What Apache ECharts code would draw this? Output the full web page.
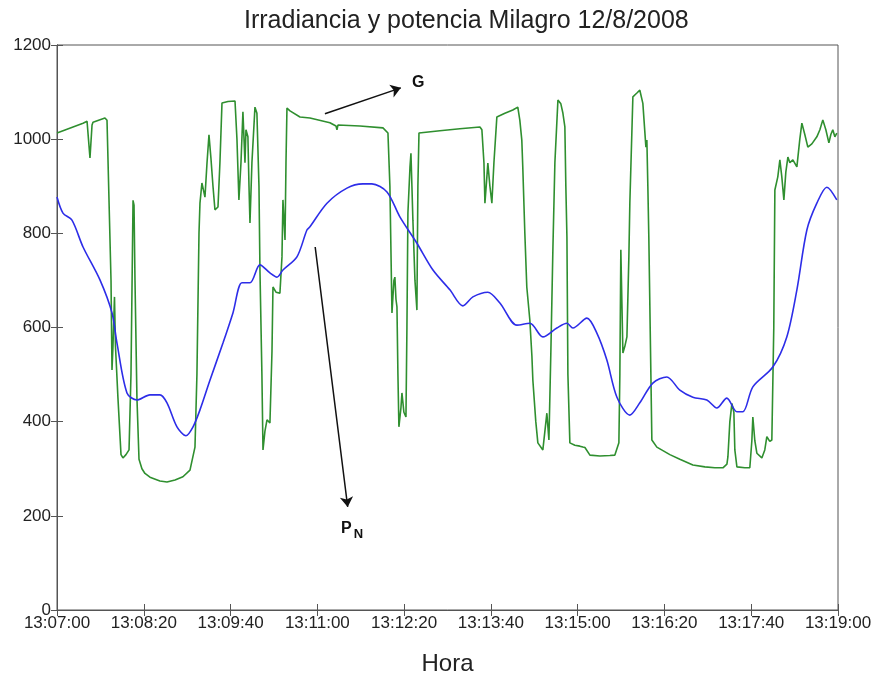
<!DOCTYPE html>
<html>
<head>
<meta charset="utf-8">
<script src="https://cdn.jsdelivr.net/npm/echarts@6/dist/echarts.min.js"></script>
<style>html,body{margin:0;padding:0;background:#fff}#c{width:877px;height:674px}</style>
</head>
<body>
<div id="c"></div>
<script>
// time in seconds after 13:07:00
var gTime = [0,24.0,27.7,30.4,32.3,33.2,44.2,46.1,49.8,50.7,51.6,53.0,53.9,56.2,59.0,60.8,63.6,66.4,68.2,70.1,71.0,71.9,73.7,75.6,78.3,81.1,85.7,94.9,101.4,108.8,116.1,122.6,127.2,129.0,130.9,131.8,133.6,136.4,138.3,140.1,141.9,143.8,145.6,148.4,150.2,152.1,157.6,164.1,165.9,167.7,169.6,171.4,173.3,174.2,176.0,177.0,177.9,179.7,182.5,184.3,186.2,187.1,188.9,189.9,191.7,193.6,196.3,198.2,199.1,201.9,205.5,207.4,208.3,210.2,211.1,212.0,214.8,224.0,233.2,251.6,257.2,258.1,259.0,279.3,300.5,305.1,306.9,308.8,310.6,311.5,312.5,313.4,314.3,315.2,317.1,318.0,319.8,321.7,322.6,323.5,325.4,326.3,327.2,328.1,330.0,331.8,332.7,333.7,353.0,371.4,389.9,391.7,393.6,394.5,396.3,397.2,399.1,400.9,402.8,405.5,412.9,420.2,424.8,426.7,428.5,429.4,431.3,433.1,435.9,437.8,438.7,441.4,443.3,447.9,449.8,451.6,453.5,455.3,457.2,459.0,461.8,464.5,466.4,468.2,469.1,470.1,471.0,472.8,477.4,482.0,484.8,486.7,491.3,500.5,509.7,514.3,518.0,518.9,519.8,520.8,521.7,523.5,525.4,527.2,528.1,530.9,534.6,537.3,540.1,542.9,543.8,544.7,545.6,547.5,548.4,553.0,565.0,574.2,586.2,597.3,606.5,613.9,617.6,618.5,620.3,622.2,624.0,624.9,626.8,634.1,638.7,640.6,641.5,643.3,645.2,649.8,652.5,654.4,657.1,659.0,660.8,661.8,664.5,666.4,668.2,670.1,671.9,673.8,675.6,678.4,680.2,682.1,684.8,686.7,689.4,692.2,695.9,700.5,703.3,706.0,708.8,711.6,713.4,715.2,717.1,718.9];
var gValue = [1013,1034,1038,960,1030,1036,1045,1040,700,510,560,665,560,450,330,323,330,340,500,870,860,700,450,320,300,290,282,274,272,276,283,297,346,500,800,864,907,877,950,1009,960,900,850,856,950,1077,1080,1081,1000,871,950,1058,950,1020,1005,900,822,950,1068,1055,900,722,500,340,380,404,397,550,686,675,673,750,871,786,950,1066,1060,1047,1045,1035,1028,1020,1030,1028,1024,1013,900,631,700,707,660,644,500,389,430,461,420,410,600,843,940,970,900,828,700,637,900,1013,1018,1022,1026,1020,950,864,920,949,900,864,950,1047,1055,1062,1068,1040,998,941,800,686,616,540,488,400,355,340,380,418,361,550,771,950,1083,1075,1055,1026,900,792,500,355,350,348,346,345,329,327,328,329,355,500,765,650,546,560,580,750,864,1090,1098,1104,1076,983,998,900,792,500,361,346,330,320,308,304,302,302,310,325,400,439,420,340,304,302,302,360,410,360,333,323,340,368,358,361,600,892,920,956,920,871,930,962,950,956,960,941,1000,1034,1010,983,990,1005,1020,1041,1020,992,1010,1020,1005,1013];

var pTime = [0,5.5,13.8,24.0,39.6,50.7,55.3,64.5,73.7,85.7,94.9,101.4,110.6,118.9,125.4,131.8,141.0,153.0,162.2,170.5,177.9,187.1,196.3,202.8,208.3,221.2,230.4,233.2,248.9,267.3,282.0,290.3,304.2,316.1,331.8,346.6,362.2,374.2,383.4,397.2,408.3,424.0,436.0,447.9,460.8,470.1,475.6,488.5,497.7,506.9,516.2,528.1,537.3,549.3,562.2,574.2,586.2,599.1,608.3,617.5,626.8,632.3,641.5,659.9,672.8,682.1,691.3,700.5,709.7,718.9];
var pValue = [877,843,828,771,701,631,567,461,446,457,457,440,389,370,389,425,488,567,631,695,695,733,716,707,722,750,807,814,864,896,905,905,888,835,779,722,680,646,665,675,652,605,609,580,599,609,599,620,588,531,452,414,440,482,495,467,452,446,429,450,421,421,474,516,580,680,807,864,898,871];

var xTicks = {min: 0, max: 720, interval: 80};
var yTicks = {min: 0, max: 1200, interval: 200};

// annotation arrows (data coordinates: seconds, value)
var arrowG = [[247, 1054], [317, 1109]];
var arrowP = [[238, 771], [268, 219]];
var labelG = [333, 1120];
var labelP = [272, 172];

function zip(a, b) { return a.map(function (t, i) { return [t, b[i]]; }); }
function fmt(v) {
  var s = 7 * 60 + v;
  var m = Math.floor(s / 60), ss = Math.round(s % 60);
  return '13:' + (m < 10 ? '0' : '') + m + ':' + (ss < 10 ? '0' : '') + ss;
}

var font = 'Liberation Sans, Arial, Helvetica, sans-serif';
var axisCol = '#555';
var chart = echarts.init(document.getElementById('c'));
chart.setOption({
  backgroundColor: '#fff',
  animation: false,
  title: {
    text: 'Irradiancia y potencia Milagro 12/8/2008',
    left: 239, top: 4,
    textStyle: {fontFamily: font, fontSize: 25, fontWeight: 'normal', color: '#222'}
  },
  grid: {left: 57, right: 39, top: 45, bottom: 64, show: true, borderColor: axisCol, borderWidth: 1,
    containLabel: false, outerBoundsMode: 'none'},
  xAxis: [{
    type: 'value', min: xTicks.min, max: xTicks.max, interval: xTicks.interval,
    name: 'Hora', nameLocation: 'middle', nameGap: 42,
    nameTextStyle: {fontFamily: font, fontSize: 24, color: '#222'},
    axisLine: {show: true, lineStyle: {color: axisCol}},
    axisTick: {show: true, inside: true, length: 6, lineStyle: {color: axisCol}},
    axisLabel: {fontFamily: font, fontSize: 17, color: '#222', margin: 5, formatter: fmt},
    splitLine: {show: false}
  }, {
    type: 'value', position: 'top', min: xTicks.min, max: xTicks.max, interval: xTicks.interval,
    axisLine: {show: true, lineStyle: {color: axisCol}},
    axisTick: {show: true, inside: true, length: 6, lineStyle: {color: axisCol}},
    axisLabel: {show: false}, splitLine: {show: false}
  }],
  yAxis: [{
    type: 'value', position: 'left', min: yTicks.min, max: yTicks.max, interval: yTicks.interval,
    axisLine: {show: true, lineStyle: {color: axisCol}},
    axisTick: {show: true, inside: true, length: 6, lineStyle: {color: axisCol}},
    axisLabel: {fontFamily: font, fontSize: 17, color: '#222', margin: 6, formatter: function (v) { return String(v); }},
    splitLine: {show: false}
  }, {
    type: 'value', position: 'right', min: yTicks.min, max: yTicks.max, interval: yTicks.interval,
    axisLine: {show: true, lineStyle: {color: axisCol}},
    axisTick: {show: true, inside: true, length: 6, lineStyle: {color: axisCol}},
    axisLabel: {show: false}, splitLine: {show: false}
  }],
  series: [{
    name: 'G', type: 'line', data: zip(gTime, gValue), showSymbol: false,
    lineStyle: {color: '#2f8f2f', width: 1.6}, itemStyle: {color: '#2f8f2f'}
  }, {
    name: 'PN', type: 'line', data: zip(pTime, pValue), showSymbol: false, smooth: 0.3,
    lineStyle: {color: '#2d2de8', width: 1.6}, itemStyle: {color: '#2d2de8'}
  }, {
    name: 'annot', type: 'line', data: [], silent: true,
    markLine: {
      silent: true, symbol: ['none', 'arrow'], symbolSize: 10,
      lineStyle: {color: '#111', width: 1.5, type: 'solid'},
      label: {show: false},
      data: [
        [{coord: arrowG[0]}, {coord: arrowG[1]}],
        [{coord: arrowP[0]}, {coord: arrowP[1]}]
      ]
    },
    markPoint: {
      silent: true, symbol: 'circle', symbolSize: 0,
      label: {show: true, fontFamily: font, fontWeight: 'bold', fontSize: 16, color: '#111',
        rich: {sub: {fontFamily: font, fontWeight: 'bold', fontSize: 13, color: '#111', verticalAlign: 'bottom', padding: [11, 0, 0, 2]}}},
      data: [
        {coord: labelG, label: {formatter: 'G'}},
        {coord: labelP, label: {formatter: 'P{sub|N}'}}
      ]
    }
  }]
});
</script>
</body>
</html>
